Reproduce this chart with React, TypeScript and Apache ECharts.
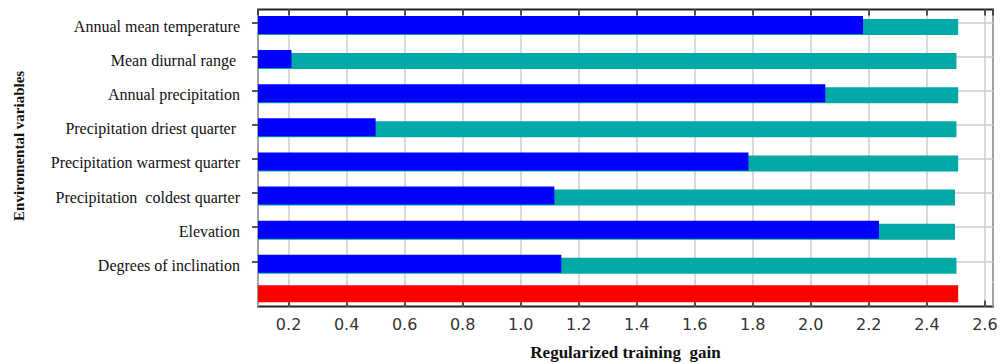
import React, { useEffect, useRef } from "react";
import * as echarts from "echarts";

// Environmental variables (top to bottom)
const variables = [
  "Annual mean temperature",
  "Mean diurnal range ",
  "Annual precipitation",
  "Precipitation driest quarter ",
  "Precipitation warmest quarter",
  "Precipitation  coldest quarter",
  "Elevation",
  "Degrees of inclination",
];

// Regularized training gain without each variable
const withoutVariable = [2.508, 2.502, 2.508, 2.502, 2.508, 2.497, 2.497, 2.502];
// Regularized training gain with only each variable
const withOnlyVariable = [2.18, 0.21, 2.05, 0.5, 1.785, 1.116, 2.235, 1.14];
// Regularized training gain with all variables
const allVariablesLabel = ["With all variables"];
const withAllVariables = [2.508];

const xMin = 0.0946;
const xMax = 2.628;

const TEAL = "#00A8A6";
const BLUE = "#0000FF";
const RED = "#FF0000";
const GRID_GRAY = "#cccccc";
const FRAME = "#222222";

const SERIF = "Liberation Serif";
const SANS = "DejaVu Sans";

const PLOT_LEFT = 258;
const PLOT_RIGHT = 8;

export default function App() {
  const ref = useRef<HTMLDivElement>(null);

  useEffect(() => {
    if (!ref.current) return;
    const chart = echarts.init(ref.current, undefined, { renderer: "svg" });

    const valueAxisBase = {
      type: "value",
      min: xMin,
      max: xMax,
      splitNumber: 12,
      minInterval: 0.2,
      maxInterval: 0.2,
      axisLine: { show: false },
      axisTick: {
        show: true,
        inside: true,
        length: 6,
        lineStyle: { color: FRAME, width: 1.5 },
      },
      splitLine: { show: true, lineStyle: { color: GRID_GRAY, width: 1.5 } },
    };

    chart.setOption({
      animation: false,
      backgroundColor: "#ffffff",
      grid: [
        // variable bars
        { left: PLOT_LEFT, right: PLOT_RIGHT, top: 9.4, height: 273 },
        // all-variables bar
        { left: PLOT_LEFT, right: PLOT_RIGHT, top: 281, height: 25.5 },
        // horizontal guide lines with right-hand ticks
        { left: PLOT_LEFT, right: PLOT_RIGHT, top: 22.3, height: 239 },
        // plot frame
        {
          left: PLOT_LEFT,
          right: PLOT_RIGHT,
          top: 9.4,
          height: 297.1,
          show: true,
          borderColor: FRAME,
          borderWidth: 2,
          backgroundColor: "transparent",
        },
      ],
      xAxis: [
        {
          ...valueAxisBase,
          gridIndex: 0,
          position: "top",
          axisLabel: { show: false },
        },
        {
          ...valueAxisBase,
          gridIndex: 1,
          position: "bottom",
          axisLabel: {
            show: true,
            showMinLabel: false,
            showMaxLabel: false,
            margin: 10,
            color: "#333333",
            fontFamily: SANS,
            fontSize: 16,
            formatter: (v: number) => v.toFixed(1),
          },
          name: "Regularized training  gain",
          nameLocation: "middle",
          nameGap: 37,
          nameTextStyle: {
            fontFamily: SERIF,
            fontWeight: "bold",
            fontSize: 17,
            color: "#111111",
          },
        },
        { type: "value", gridIndex: 2, show: false, min: 0, max: 1 },
        { type: "value", gridIndex: 3, show: false, min: 0, max: 1 },
      ],
      yAxis: [
        {
          type: "category",
          gridIndex: 0,
          data: variables,
          inverse: true,
          axisLine: { show: false },
          axisTick: { show: false },
          splitLine: { show: false },
          axisLabel: {
            interval: 0,
            margin: 18,
            color: "#111111",
            fontFamily: SERIF,
            fontSize: 16,
          },
          name: "Enviromental variables",
          nameLocation: "middle",
          nameRotate: 90,
          nameGap: 232,
          nameTextStyle: {
            fontFamily: SERIF,
            fontWeight: "bold",
            fontSize: 15,
            color: "#111111",
          },
        },
        {
          type: "category",
          gridIndex: 1,
          data: allVariablesLabel,
          axisLine: { show: false },
          axisTick: { show: false },
          axisLabel: { show: false },
          splitLine: { show: false },
        },
        {
          type: "category",
          gridIndex: 2,
          data: variables,
          inverse: true,
          boundaryGap: false,
          position: "right",
          axisLine: { show: false },
          axisLabel: { show: false },
          axisTick: {
            show: true,
            inside: true,
            interval: 0,
            length: 6,
            lineStyle: { color: FRAME, width: 1.5 },
          },
          splitLine: {
            show: true,
            interval: 0,
            lineStyle: { color: GRID_GRAY, width: 1.5 },
          },
        },
        { type: "value", gridIndex: 3, show: false, min: 0, max: 1 },
      ],
      series: [
        {
          name: "Without variable",
          type: "bar",
          xAxisIndex: 0,
          yAxisIndex: 0,
          data: withoutVariable,
          barWidth: 16,
          barGap: "-118.75%",
          itemStyle: { color: TEAL },
          z: 2,
        },
        {
          name: "With only variable",
          type: "bar",
          xAxisIndex: 0,
          yAxisIndex: 0,
          data: withOnlyVariable,
          barWidth: 18,
          barGap: "-118.75%",
          itemStyle: { color: BLUE },
          z: 3,
        },
        {
          name: "With all variables",
          type: "bar",
          xAxisIndex: 1,
          yAxisIndex: 1,
          data: withAllVariables,
          barWidth: 17,
          itemStyle: { color: RED },
          z: 2,
        },
      ],
    });

    return () => chart.dispose();
  }, []);

  return (
    <div
      ref={ref}
      style={{ position: "fixed", left: 0, top: 0, width: 1001, height: 364 }}
    />
  );
}
